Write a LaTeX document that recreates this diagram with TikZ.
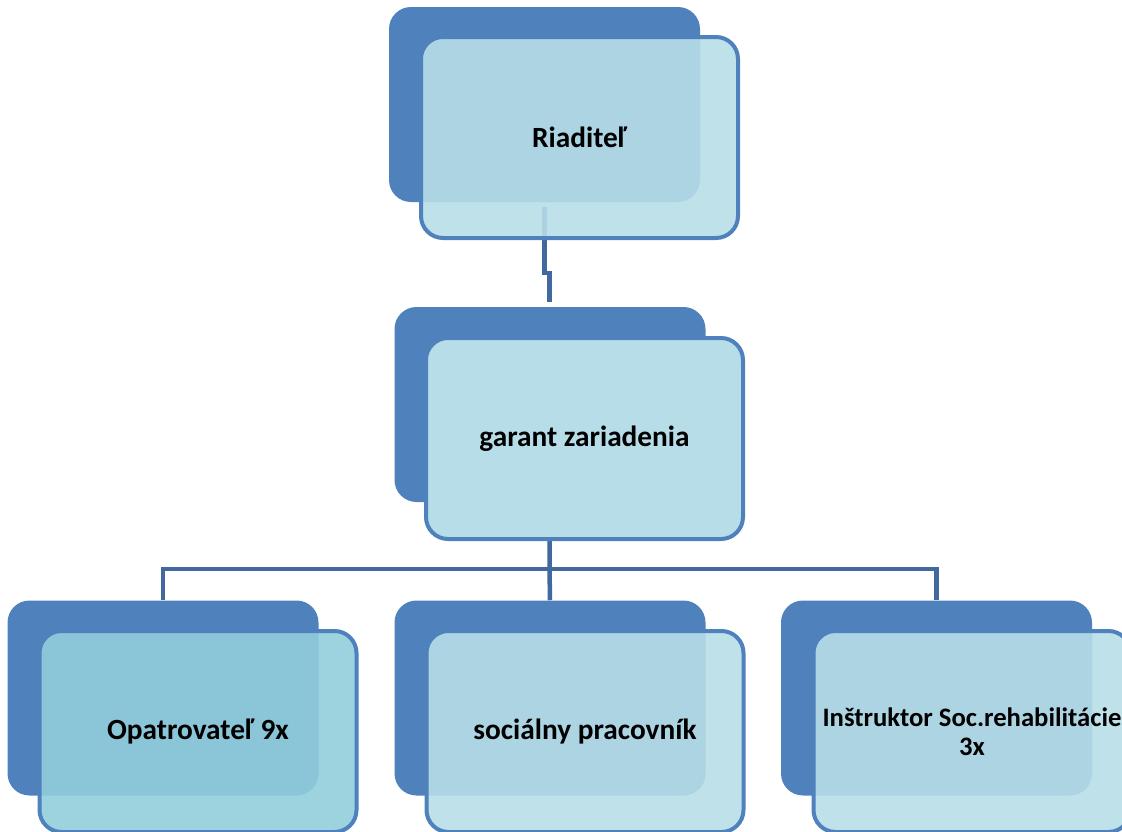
\documentclass[tikz,border=0pt]{standalone}
\usepackage{fontspec}
\setmainfont{Carlito}
\definecolor{backblue}{HTML}{4F81BD}
\definecolor{lineblue}{HTML}{41699F}
\definecolor{lightaqua}{HTML}{B7DEE8}
\definecolor{midaqua}{HTML}{92CDDC}
\tikzset{
  backbox/.style={rectangle, rounded corners=22*0.75pt, fill=backblue, draw=none,
    minimum width=311*0.75pt, minimum height=195*0.75pt, inner sep=0pt},
  frontbox/.style={rectangle, rounded corners=22*0.75pt, draw=backblue, line width=4*0.75pt,
    fill=lightaqua, fill opacity=0.9, text opacity=1, text=black,
    minimum width=317*0.75pt, minimum height=201*0.75pt, inner sep=0pt,
    font=\bfseries\fontsize{22}{26}\selectfont, align=center},
  solidfront/.style={frontbox, fill opacity=1},
  connector/.style={draw=lineblue, line width=4.5*0.75pt},
}
\begin{document}
\begin{tikzpicture}[x=0.75pt,y=-0.75pt]
\useasboundingbox (0,0) rectangle (1122,832);
\clip (0,0) rectangle (1122,832);
% back shapes
\node[backbox] (b1) at (544.5,104.5) {};
\node[backbox] (b2) at (550,404.5) {};
\node[backbox] (b3) at (163,698) {};
\node[backbox] (b4) at (550,698) {};
\node[backbox] (b5) at (936.5,698) {};
% connectors
\coordinate (t1) at (544.5,207);
\coordinate (j1) at (544.5,273);
\coordinate (j2) at (549.5,273);
\coordinate (t2) at (549.5,302);
\draw[connector] (t1) -- (j1) -- (j2) -- (t2);
\coordinate (m) at (549.5,569);
\draw[connector] (b2.south) -- (m);
\draw[connector] (m) -| (b3.north);
\draw[connector] (m) -- (b4.north);
\draw[connector] (m) -| (b5.north);
% front shapes
\node[frontbox] (f1) at (579.5,137.5) {Riadite\v{l}};
\node[solidfront] (f2) at (584.5,438.5) {garant zariadenia};
\node[frontbox, fill=midaqua] (f3) at (198,731.5) {Opatrovate\v{l} 9x};
\node[frontbox] (f4) at (585,731.5) {sociálny pracovník};
\node[frontbox, font=\bfseries\fontsize{20}{22}\selectfont] (f5) at (972,731.5) {Inštruktor Soc.rehabilitácie\\3x};
\end{tikzpicture}
\end{document}
